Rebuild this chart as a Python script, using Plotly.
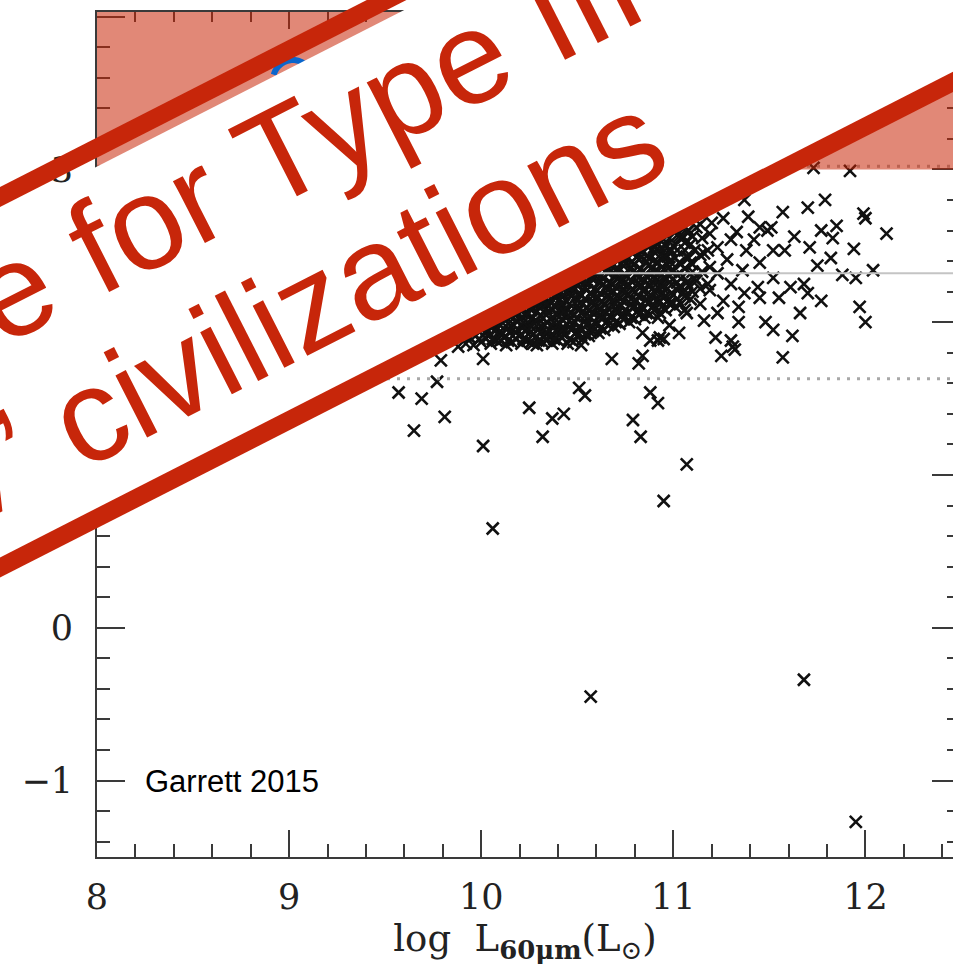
import math
import plotly.graph_objects as go

# ---------------- data ----------------
x_range = [8.0, 12.456]
y_range = [-1.5, 4.03]

q_mean = 2.32          # solid grey line
q_upper = 3.02         # upper dotted line
q_lower = 1.63         # lower dotted line
excl_lo, excl_hi = 3.0, 4.03   # shaded "Type III" region

# individually readable galaxies (log L60, q)
scatter_points = [
    (10.01, 1.19), (10.06, 0.65), (11.07, 1.07), (10.95, 0.83), (10.57, -0.45),
    (11.68, -0.34), (11.95, -1.27), (10.25, 1.44), (10.37, 1.37), (10.43, 1.40),
    (10.32, 1.25), (10.79, 1.36), (10.83, 1.25), (10.51, 1.57), (10.54, 1.52),
    (10.88, 1.54), (10.92, 1.47), (10.68, 1.76), (10.84, 1.78), (10.82, 1.73),
    (10.52, 1.85), (11.25, 1.78), (11.32, 1.82), (11.57, 1.77), (9.57, 1.54),
    (9.69, 1.50), (9.77, 1.61), (9.79, 1.75), (9.65, 1.29), (9.81, 1.38),
    (9.88, 1.84), (10.01, 1.76), (9.99, 1.89),
    (11.73, 3.01), (11.92, 2.99), (11.37, 2.80), (11.79, 2.80), (11.70, 2.75),
    (11.57, 2.72), (11.99, 2.71), (12.00, 2.68), (11.39, 2.69), (11.51, 2.62),
    (11.49, 2.60), (11.85, 2.63), (11.77, 2.60), (11.83, 2.55), (12.11, 2.58),
    (11.63, 2.56), (11.94, 2.48), (11.71, 2.49), (11.82, 2.42), (11.58, 2.47),
    (12.04, 2.34), (11.95, 2.29), (11.88, 2.31), (11.75, 2.37), (11.68, 2.25),
    (11.61, 2.23), (11.55, 2.16), (11.70, 2.19), (11.77, 2.14), (11.97, 2.10),
    (12.00, 2.00), (11.66, 2.06), (11.48, 2.00), (11.52, 1.95), (11.62, 1.91),
    (11.34, 2.00), (11.22, 1.90), (11.30, 1.88), (11.31, 1.84), (11.03, 1.93),
    (11.06, 2.08), (10.93, 1.90),
    (11.26, 2.68), (11.20, 2.65), (11.33, 2.59), (11.45, 2.62), (11.30, 2.54),
    (11.42, 2.54), (11.23, 2.49), (11.38, 2.47), (11.52, 2.47), (11.16, 2.45),
    (11.28, 2.41), (11.45, 2.39), (11.09, 2.39), (11.36, 2.34), (11.23, 2.32),
    (11.52, 2.29), (11.12, 2.27), (11.30, 2.25), (11.44, 2.23), (11.19, 2.21),
    (11.37, 2.19), (11.05, 2.19), (11.26, 2.14), (11.45, 2.16), (11.14, 2.12),
    (11.34, 2.10), (10.98, 2.12), (11.23, 2.06), (11.07, 2.06), (10.92, 2.03),
    (11.16, 2.01), (10.98, 1.98), (11.05, 2.56), (11.12, 2.62), (10.98, 2.47),
    (10.92, 2.39), (10.98, 2.30), (10.92, 2.23), (11.02, 2.21), (10.93, 2.14),
    (10.84, 1.93), (10.88, 1.88), (10.92, 1.88), (10.95, 1.89), (10.12, 1.90),
    (10.27, 1.86), (10.34, 1.88), (10.41, 1.95), (10.57, 1.93),
]

# the packed core of the cloud (read as a dense mass, column by column)
core_points = [
    (9.92, 1.86), (9.94, 1.90),
    (9.96, 1.85), (9.97, 1.91),
    (10.00, 1.87), (10.02, 1.93), (10.01, 1.96),
    (10.05, 1.86), (10.04, 1.91), (10.06, 1.97),
    (10.08, 1.88), (10.10, 1.94), (10.09, 1.99),
    (10.13, 1.85), (10.12, 1.90), (10.14, 1.96), (10.12, 2.02),
    (10.16, 1.87), (10.18, 1.93), (10.17, 1.98), (10.16, 2.04),
    (10.21, 1.86), (10.20, 1.91), (10.22, 1.97), (10.20, 2.02), (10.21, 2.07),
    (10.24, 1.88), (10.26, 1.94), (10.25, 1.99), (10.24, 2.05), (10.26, 2.10),
    (10.29, 1.85), (10.28, 1.90), (10.30, 1.96), (10.28, 2.01), (10.29, 2.07), (10.28, 2.12),
    (10.32, 1.87), (10.34, 1.92), (10.33, 1.98), (10.32, 2.03), (10.34, 2.09), (10.33, 2.15),
    (10.37, 1.86), (10.36, 1.91), (10.38, 1.97), (10.36, 2.02), (10.37, 2.08), (10.36, 2.13), (10.38, 2.17),
    (10.40, 1.88), (10.42, 1.93), (10.41, 1.99), (10.40, 2.05), (10.42, 2.10), (10.41, 2.15), (10.40, 2.20),
    (10.45, 1.86), (10.44, 1.92), (10.46, 1.97), (10.44, 2.03), (10.45, 2.08), (10.44, 2.14), (10.46, 2.19), (10.44, 2.23),
    (10.48, 1.87), (10.50, 1.94), (10.49, 2.00), (10.48, 2.05), (10.50, 2.11), (10.49, 2.16), (10.48, 2.21), (10.50, 2.25),
    (10.53, 1.89), (10.52, 1.95), (10.54, 2.01), (10.52, 2.06), (10.53, 2.12), (10.52, 2.18), (10.54, 2.23), (10.52, 2.28),
    (10.56, 1.91), (10.58, 1.97), (10.57, 2.03), (10.56, 2.08), (10.58, 2.14), (10.57, 2.19), (10.56, 2.25), (10.58, 2.30),
    (10.61, 1.93), (10.60, 1.99), (10.62, 2.05), (10.60, 2.10), (10.61, 2.16), (10.60, 2.21), (10.62, 2.27), (10.60, 2.32),
    (10.64, 1.95), (10.66, 2.01), (10.65, 2.06), (10.64, 2.12), (10.66, 2.18), (10.65, 2.23), (10.64, 2.29), (10.66, 2.35),
    (10.69, 1.97), (10.68, 2.03), (10.70, 2.09), (10.68, 2.14), (10.69, 2.20), (10.68, 2.25), (10.70, 2.31), (10.68, 2.37),
    (10.72, 1.99), (10.74, 2.05), (10.73, 2.11), (10.72, 2.16), (10.74, 2.22), (10.73, 2.28), (10.72, 2.34), (10.74, 2.40),
    (10.77, 2.00), (10.76, 2.06), (10.78, 2.12), (10.76, 2.18), (10.77, 2.24), (10.76, 2.30), (10.78, 2.36), (10.76, 2.42),
    (10.80, 2.02), (10.82, 2.08), (10.81, 2.14), (10.80, 2.20), (10.82, 2.26), (10.81, 2.32), (10.80, 2.38), (10.82, 2.44),
    (10.85, 2.03), (10.84, 2.09), (10.86, 2.15), (10.84, 2.21), (10.85, 2.27), (10.84, 2.33), (10.86, 2.40), (10.84, 2.46),
    (10.88, 2.05), (10.90, 2.11), (10.89, 2.17), (10.88, 2.24), (10.90, 2.30), (10.89, 2.36), (10.88, 2.42), (10.90, 2.49),
    (10.93, 2.06), (10.92, 2.13), (10.94, 2.19), (10.92, 2.26), (10.93, 2.32), (10.92, 2.39), (10.94, 2.45), (10.92, 2.51),
    (10.96, 2.08), (10.98, 2.15), (10.97, 2.22), (10.96, 2.29), (10.98, 2.36), (10.97, 2.43), (10.96, 2.50),
    (11.01, 2.10), (11.00, 2.18), (11.02, 2.26), (11.00, 2.34), (11.01, 2.42), (11.00, 2.50), (11.02, 2.57),
    (11.04, 2.12), (11.06, 2.21), (11.05, 2.30), (11.04, 2.38), (11.06, 2.47), (11.05, 2.55),
    (11.09, 2.15), (11.08, 2.24), (11.10, 2.33), (11.08, 2.42), (11.09, 2.51), (11.08, 2.60),
]

# further galaxies packed between the columns above
core_fill_points = [
    (10.02, 1.90), (10.03, 1.95),
    (10.06, 1.89), (10.07, 1.94), (10.06, 1.99),
    (10.10, 1.88), (10.11, 1.93), (10.10, 1.98),
    (10.14, 1.88), (10.15, 1.93), (10.14, 1.99), (10.15, 2.04),
    (10.18, 1.89), (10.19, 1.95), (10.18, 2.01), (10.19, 2.06),
    (10.22, 1.89), (10.23, 1.94), (10.22, 2.00), (10.23, 2.05), (10.22, 2.09),
    (10.26, 1.87), (10.27, 1.92), (10.26, 1.97), (10.27, 2.03), (10.26, 2.08), (10.27, 2.12),
    (10.30, 1.88), (10.31, 1.93), (10.30, 1.99), (10.31, 2.04), (10.30, 2.10), (10.31, 2.14),
    (10.34, 1.89), (10.35, 1.95), (10.34, 2.00), (10.35, 2.06), (10.34, 2.12), (10.35, 2.17),
    (10.38, 1.89), (10.39, 1.94), (10.38, 2.00), (10.39, 2.05), (10.38, 2.11), (10.39, 2.16), (10.38, 2.20),
    (10.42, 1.90), (10.43, 1.96), (10.42, 2.02), (10.43, 2.07), (10.42, 2.12), (10.43, 2.18), (10.42, 2.22),
    (10.46, 1.89), (10.47, 1.95), (10.46, 2.01), (10.47, 2.06), (10.46, 2.12), (10.47, 2.17), (10.46, 2.22), (10.47, 2.26),
    (10.50, 1.91), (10.51, 1.97), (10.50, 2.03), (10.51, 2.08), (10.50, 2.14), (10.51, 2.19), (10.50, 2.24), (10.51, 2.28),
    (10.54, 1.92), (10.55, 1.98), (10.54, 2.04), (10.55, 2.09), (10.54, 2.15), (10.55, 2.21), (10.54, 2.26), (10.55, 2.30),
    (10.58, 1.94), (10.59, 2.00), (10.58, 2.06), (10.59, 2.11), (10.58, 2.17), (10.59, 2.22), (10.58, 2.28), (10.59, 2.33),
    (10.62, 1.96), (10.63, 2.02), (10.62, 2.08), (10.63, 2.13), (10.62, 2.19), (10.63, 2.24), (10.62, 2.30), (10.63, 2.35),
    (10.66, 1.98), (10.67, 2.04), (10.66, 2.09), (10.67, 2.15), (10.66, 2.21), (10.67, 2.26), (10.66, 2.32), (10.67, 2.38),
    (10.70, 2.00), (10.71, 2.06), (10.70, 2.12), (10.71, 2.17), (10.70, 2.23), (10.71, 2.28), (10.70, 2.34), (10.71, 2.40),
    (10.74, 2.02), (10.75, 2.08), (10.74, 2.14), (10.75, 2.19), (10.74, 2.25), (10.75, 2.31), (10.74, 2.37), (10.75, 2.42),
    (10.78, 2.03), (10.79, 2.09), (10.78, 2.15), (10.79, 2.21), (10.78, 2.27), (10.79, 2.33), (10.78, 2.39), (10.79, 2.45),
    (10.82, 2.05), (10.83, 2.11), (10.82, 2.17), (10.83, 2.23), (10.82, 2.29), (10.83, 2.35), (10.82, 2.41), (10.83, 2.47),
    (10.86, 2.06), (10.87, 2.12), (10.86, 2.18), (10.87, 2.24), (10.86, 2.30), (10.87, 2.37), (10.86, 2.43), (10.87, 2.49),
    (10.90, 2.08), (10.91, 2.14), (10.90, 2.20), (10.91, 2.27), (10.90, 2.33), (10.91, 2.39), (10.90, 2.46), (10.91, 2.52),
    (10.94, 2.10), (10.95, 2.16), (10.94, 2.23), (10.95, 2.29), (10.94, 2.36), (10.95, 2.42), (10.94, 2.49), (10.95, 2.54),
    (10.98, 2.12), (10.99, 2.19), (10.98, 2.26), (10.99, 2.33), (10.98, 2.40), (10.99, 2.47), (10.98, 2.55),
    (11.02, 2.15), (11.03, 2.23), (11.02, 2.31), (11.03, 2.39), (11.02, 2.47), (11.03, 2.56),
    (11.06, 2.17), (11.07, 2.26), (11.06, 2.35), (11.07, 2.43), (11.06, 2.52), (11.07, 2.59),
    (11.10, 2.20), (11.11, 2.29), (11.10, 2.38), (11.11, 2.47), (11.10, 2.56),
    (11.14, 2.22), (11.15, 2.33), (11.14, 2.44), (11.15, 2.55), (11.14, 2.64),
    (11.18, 2.25), (11.19, 2.36), (11.18, 2.47), (11.19, 2.58),
]

x_ticks = [8, 9, 10, 11, 12]
y_ticks = [-1, 0, 1, 2, 3, 4]
y_ticktext = ["\u22121", "0", "1", "2", "3", ""]

banner_line1 = "No evidence for Type III"
banner_line2 = "\u2018Kardashev\u2019 civilizations"
credit = "Garrett 2015"

# ---------------- figure geometry ----------------
W, H = 953, 973
ML, MR, MT, MB = 97, 0, 12, 116
PW, PH = W - ML - MR, H - MT - MB

def paper(px, py):
    return (px - ML) / PW, (H - MB - py) / PH

RED = "rgb(199,38,10)"
AX = "#3a3a3a"
SERIF = "DejaVu Serif"

pts = scatter_points + core_points + core_fill_points
gx = [p[0] for p in pts]
gy = [p[1] for p in pts]

fig = go.Figure()
fig.add_trace(go.Scatter(
    x=gx, y=gy, mode="markers",
    marker=dict(symbol="x-thin", size=12, line=dict(width=2.6, color="#111")),
    showlegend=False, hoverinfo="skip", cliponaxis=True,
))
# carrier for the mirrored top / right axes
fig.add_trace(go.Scatter(x=[], y=[], xaxis="x2", yaxis="y2", showlegend=False))

shapes = []
# reference levels
shapes.append(dict(type="line", xref="x", yref="y", x0=x_range[0], x1=x_range[1],
                   y0=q_mean, y1=q_mean, line=dict(color="#c4c4c4", width=2), layer="above"))
for lev in (q_upper, q_lower):
    shapes.append(dict(type="line", xref="x", yref="y", x0=x_range[0], x1=x_range[1],
                       y0=lev, y1=lev, line=dict(color="#a8a8a8", width=3, dash="3px,7px"),
                       layer="above"))
# shaded exclusion region
shapes.append(dict(type="rect", xref="x", yref="y", x0=x_range[0], x1=x_range[1],
                   y0=excl_lo, y1=excl_hi, fillcolor="rgba(200,38,8,0.55)",
                   line=dict(width=0), layer="above"))
# blue ring, only its upper arc peeks out from behind the banner
rc_x, rc_y, rr = 293, 80, 20
arc = []
for k in range(15):
    th = math.radians(195 + k * 10)
    arc.append(paper(rc_x + rr * math.cos(th), rc_y + rr * math.sin(th)))
arc_path = "M " + " L ".join(f"{a:.5f},{b:.5f}" for a, b in arc)
shapes.append(dict(type="path", xref="paper", yref="paper", path=arc_path,
                   line=dict(color="rgb(10,102,204)", width=6), layer="above"))
# diagonal banner: white body plus two thick red rules
t = math.tan(math.radians(27))
def up(px): return 197 - t * px
def wtop(px): return 216 - t * px
def lo(px): return 567.5 - t * px
XA, XB = -600, 1600
corners = [(XA, wtop(XA)), (XB, wtop(XB)), (XB, lo(XB)), (XA, lo(XA))]
pc = [paper(a, b) for a, b in corners]
path = "M " + " L ".join(f"{a:.5f},{b:.5f}" for a, b in pc) + " Z"
shapes.append(dict(type="path", xref="paper", yref="paper", path=path,
                   fillcolor="white", line=dict(width=0), layer="above"))
for f in (up, lo):
    p0 = paper(XA, f(XA)); p1 = paper(XB, f(XB))
    shapes.append(dict(type="line", xref="paper", yref="paper", x0=p0[0], y0=p0[1],
                       x1=p1[0], y1=p1[1], line=dict(color=RED, width=18), layer="above"))

annotations = []
F = 132
for txt, (cx, cy) in ((banner_line1, (12, 291)), (banner_line2, (35, 443))):
    ax_, ay_ = paper(cx, cy)
    annotations.append(dict(text=txt, xref="paper", yref="paper", x=ax_, y=ay_,
                            xanchor="center", yanchor="middle", showarrow=False,
                            textangle=-27, font=dict(family="Liberation Sans", size=F, color=RED)))
annotations.append(dict(text=credit, xref="x", yref="y", x=8.24, y=-1.007,
                        xanchor="left", yanchor="middle", showarrow=False,
                        font=dict(family="Liberation Sans", size=31, color="black")))

tick_common = dict(showgrid=False, zeroline=False, ticks="inside", tickwidth=2,
                   tickcolor=AX, linecolor=AX, linewidth=2)

fig.update_layout(
    width=W, height=H, margin=dict(l=ML, r=MR, t=MT, b=MB, pad=0),
    paper_bgcolor="white", plot_bgcolor="white",
    shapes=shapes, annotations=annotations,
    xaxis=dict(range=x_range, showline=True, tickmode="array", tickvals=x_ticks,
               ticklen=27, minor=dict(dtick=0.2, tick0=8, ticklen=13, tickwidth=2,
                                      tickcolor=AX, ticks="inside"),
               tickfont=dict(family=SERIF, size=35, color="#222"), ticklabelstandoff=8,
               title=dict(text="log  L<sub><b>60\u03bcm</b></sub>(L<sub>\u2299</sub>)",
                          font=dict(family=SERIF, size=37, color="#222"), standoff=8),
               **tick_common),
    yaxis=dict(range=y_range, showline=True, tickmode="array", tickvals=y_ticks,
               ticktext=y_ticktext, ticklen=28,
               minor=dict(dtick=0.2, tick0=0, ticklen=13, tickwidth=2,
                          tickcolor=AX, ticks="inside"),
               tickfont=dict(family=SERIF, size=35, color="#222"), ticklabelstandoff=15,
               **tick_common),
    xaxis2=dict(range=x_range, overlaying="x", side="top", anchor="y2", showline=True,
                tickmode="array", tickvals=x_ticks, ticklen=17, showticklabels=False,
                minor=dict(dtick=0.2, tick0=8, ticklen=10, tickwidth=2,
                           tickcolor=AX, ticks="inside"),
                **tick_common),
    yaxis2=dict(range=y_range, overlaying="y", side="right", anchor="x2",
                tickmode="array", tickvals=y_ticks, ticklen=21, showticklabels=False,
                minor=dict(dtick=0.2, tick0=0, ticklen=6, tickwidth=2,
                           tickcolor=AX, ticks="inside"),
                **{**tick_common, "linewidth": 0, "linecolor": "rgba(0,0,0,0)"}),
)

fig.write_html("out.html")
